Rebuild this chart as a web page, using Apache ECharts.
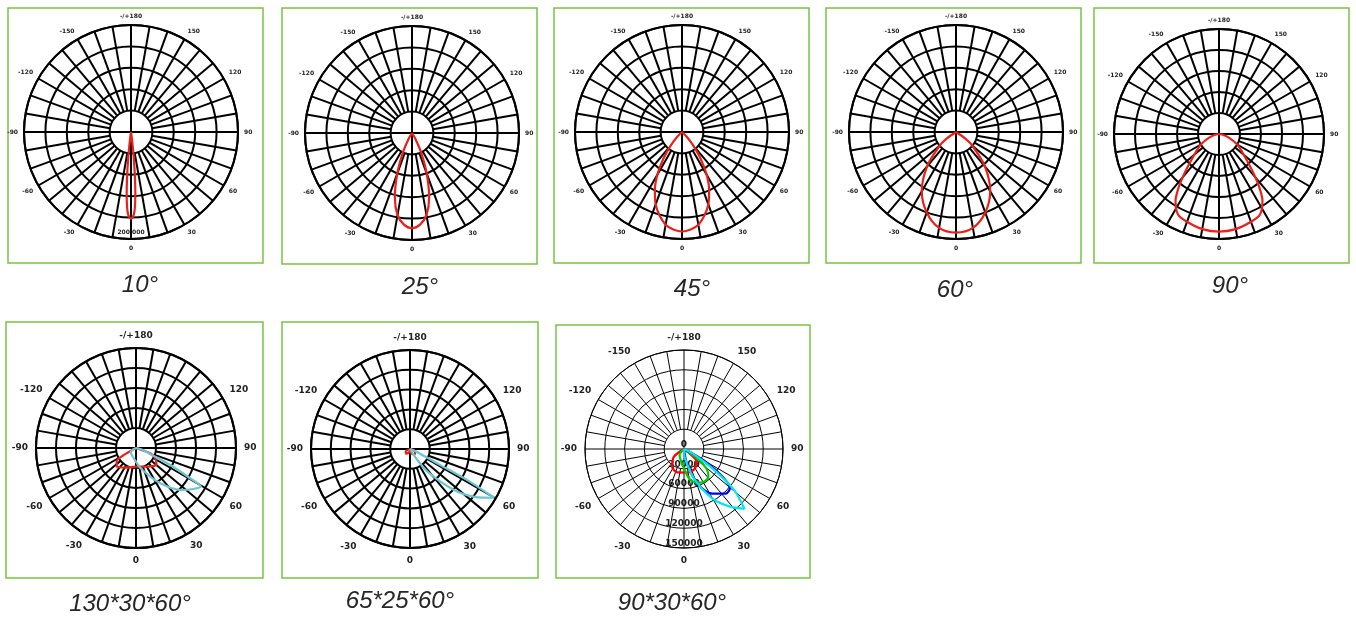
<!DOCTYPE html>
<html><head><meta charset="utf-8">
<script src="https://cdn.jsdelivr.net/npm/echarts@6/dist/echarts.min.js"></script>
<style>html,body{margin:0;padding:0;background:#fff}#c{width:1356px;height:617px}</style>
</head><body><div id="c"></div>
<script>
// captions
const captions = ['10°','25°','45°','60°','90°','130*30*60°','65*25*60°','90*30*60°'];
// spoke angles
const spokeAngles = [0,10,20,30,40,50,60,70,80,90,100,110,120,130,140,150,160,170,180,190,200,210,220,230,240,250,260,270,280,290,300,310,320,330,340,350];
// half-lobe data [angle deg, radius in ring units] (mirrored)
const lobe10 = [[0,4.05],[2,3.85],[3,3.5],[4,2.9],[5,2.1],[6,1.3],[7,0.6],[8,0.15],[9,0]];
const lobe25 = [[0,4.45],[5,4.3],[10,3.9],[15,3.1],[20,2.0],[25,1.0],[30,0.3],[35,0]];
const lobe45 = [[0,4.65],[10,4.4],[20,3.6],[25,3.0],[30,2.3],[35,1.5],[40,0.8],[45,0.3],[50,0]];
const lobe60 = [[0,4.7],[10,4.55],[20,4.0],[30,3.2],[40,2.1],[50,1.0],[55,0.5],[60,0]];
const lobe90 = [[0,4.65],[10,4.6],[20,4.45],[27,4.3],[33,3.8],[37,3.2],[40,2.7],[45,2.0],[52,1.4],[60,1.0],[70,0.5],[80,0.15],[90,0]];
// asymmetric curves [angle, radius]
const p6Red = [[-90,0],[-60,0.72],[-55,1.18],[-46,1.34],[-27,1.1],[0,0.93],[29,1.07],[51,1.31],[61,1.12],[69,0.8],[90,0]];
const p6Cyan = [[-90,0],[-53,0.33],[-12,0.53],[15,1.1],[34.6,2.14],[47.6,3.12],[59.4,3.76],[61,2.99],[63.8,1.87],[65.8,0.99],[74,0.29],[90,0]];
const p7Red = [[-90,0],[-60,0.25],[-40,0.3],[-20,0.2],[0,0.1],[20,0.25],[40,0.35],[60,0.3],[80,0.1],[90,0]];
const p7Cyan = [[0,0],[33.7,0.6],[38,1.48],[47.2,3.07],[53.4,4.05],[59.9,4.91],[61.5,3.32],[62,1.6],[68,0.36],[90,0]];
const p8Red = [[-90,0],[-52.5,0.64],[-33.4,1.08],[-16,1.23],[8,1.2],[29.6,1.13],[45.8,0.87],[51,0.43],[90,0]];
const p8Green = [[-90,0],[-36,0.38],[0,0.98],[12,1.61],[26.6,1.9],[41.3,1.87],[49,1.5],[55,0.83],[90,0]];
const p8Blue = [[0,0],[11.8,0.83],[22.6,1.98],[32.6,2.67],[43.2,3.09],[49.7,3.04],[54.2,2.4],[59.7,1.28],[63,0.38],[90,0]];
const p8Cyan = [[0,0],[6,0.48],[18.8,1.58],[29.9,2.89],[38.3,3.69],[45.3,4.29],[50.6,3.29],[55.7,1.74],[62.5,0.48],[90,0]];
const p8RingLabels = ['0','30000','60000','90000','120000','150000'];

const panels = [
 {box:[8,8,255,255], c:[131,132], r:107, cap:[140,285], fs:6, lw:2, all150:true, curves:[{d:'m',v:lobe10,col:'#e8221b'}]},
 {box:[282,8,255,256], c:[412,133], r:107, cap:[420,287], fs:6, lw:2, all150:true, curves:[{d:'m',v:lobe25,col:'#e8221b'}]},
 {box:[554,8,255,255], c:[682,132], r:107, cap:[692,289], fs:6, lw:2, all150:true, curves:[{d:'m',v:lobe45,col:'#e8221b'}]},
 {box:[826,8,255,255], c:[956,132], r:107, cap:[955,290], fs:6, lw:2, all150:true, curves:[{d:'m',v:lobe60,col:'#e8221b'}]},
 {box:[1094,8,255,255], c:[1219,134], r:105, cap:[1230,286], fs:6, lw:2, all150:true, curves:[{d:'m',v:lobe90,col:'#e8221b'}]},
 {box:[6,322,257,256], c:[136,448], r:100, cap:[130,604], fs:9, lw:2, curves:[{v:p6Red,col:'#e8221b'},{v:p6Cyan,col:'#6cc5cf'}]},
 {box:[282,322,256,256], c:[410,449], r:99, cap:[400,601], fs:9, lw:2, curves:[{v:p7Red,col:'#e8221b'},{v:p7Cyan,col:'#6cc5cf'}]},
 {box:[556,325,254,253], c:[684,449], r:99, cap:[672,603], fs:9, lw:1, ring:true, all150:true,
   curves:[{v:p8Red,col:'#ff0000'},{v:p8Green,col:'#00cc00'},{v:p8Blue,col:'#0000ee'},{v:p8Cyan,col:'#00e5ee'}]}
];
const norm = a => ((a % 360) + 360) % 360;
const polar=[], angleAxis=[], radiusAxis=[], series=[], graphic=[];
panels.forEach((p,i)=>{
  polar.push({center:p.c, radius:p.r});
  angleAxis.push({polarIndex:i, type:'value', min:0, max:360, interval:30, startAngle:-90, clockwise:false,
    axisLine:{lineStyle:{color:'#000', width:p.lw}}, axisTick:{show:false}, splitLine:{show:false},
    axisLabel:{fontSize:p.fs, fontWeight:'bold', color:'#222', margin:p.fs>6?8:6, fontFamily:'DejaVu Sans',
      formatter:v=> v===360?'':(v===180?'-/+180':((!p.all150&&(v===150||v===210))?'':(v>180?String(v-360):String(v))))}});
  radiusAxis.push({polarIndex:i, type:'value', min:0, max:5, interval:1,
    axisLine:{show:false}, axisTick:{show:false},
    axisLabel:{show:!!p.ring, fontSize:9, color:'#222', fontWeight:'bold', fontFamily:'DejaVu Sans',
      formatter:v=>p8RingLabels[v]||'', align:'center', verticalAlign:'bottom', margin:0, rotate:0},
    splitLine:{lineStyle:{color:'#000', width:p.lw}}});
  series.push({type:'custom', coordinateSystem:'polar', polarIndex:i, silent:true, z:1, animation:false,
    data:spokeAngles.map(a=>[5,a]),
    renderItem:(params, api)=>{
      const a = api.value(1);
      const p0 = api.coord([a%90===0?0:1, a]);
      const p1 = api.coord([5, a]);
      return {type:'line', shape:{x1:p0[0],y1:p0[1],x2:p1[0],y2:p1[1]}, style:{stroke:'#000', lineWidth:p.lw}};
    }});
  p.curves.forEach(cv=>{
    let pts;
    if(cv.d==='m'){
      const neg = cv.v.slice(1).reverse().map(q=>[-q[0],q[1]]);
      pts = neg.concat(cv.v);
    } else pts = cv.v;
    series.push({type:'line', coordinateSystem:'polar', polarIndex:i, data:pts.map(q=>[q[1],norm(q[0])]),
      symbol:'none', smooth:0.3, lineStyle:{color:cv.col, width:2.2}, z:5, animation:false});
  });
  graphic.push({type:'rect', shape:{x:p.box[0],y:p.box[1],width:p.box[2],height:p.box[3]},
    style:{fill:null, stroke:'#7cc243', lineWidth:1.5}, z:0});
  graphic.push({type:'text', x:p.cap[0], y:p.cap[1], style:{text:captions[i], font:'italic 24px "Liberation Sans", Arial',
    fill:'#262626', textAlign:'center', textVerticalAlign:'middle'}});
});
graphic.push({type:'text', x:131, y:232, style:{text:'200 000', font:'bold 6px "DejaVu Sans"', fill:'#222', textAlign:'center', textVerticalAlign:'middle'}, z:10});
const chart = echarts.init(document.getElementById('c'));
chart.setOption({animation:false, polar, angleAxis, radiusAxis, series, graphic});
</script></body></html>
